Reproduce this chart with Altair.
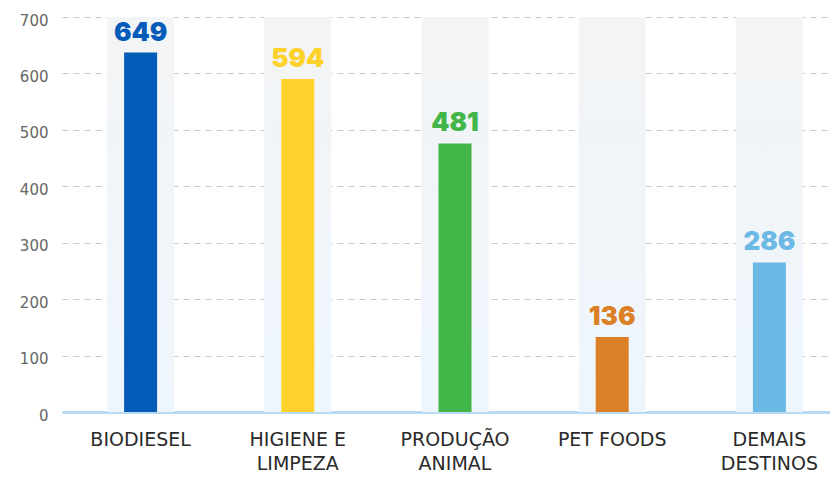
import altair as alt
import pandas as pd

categories = ["BIODIESEL", "HIGIENE E\nLIMPEZA", "PRODUÇÃO\nANIMAL", "PET FOODS", "DEMAIS\nDESTINOS"]
bar_values = [637, 590, 476, 133, 265]
label_texts = ["649", "594", "481", "136", "286"]
colors = ["#045bb8", "#fed22a", "#43b649", "#dc8027", "#6cb9e6"]
background_max = 700
y_ticks = [0, 100, 200, 300, 400, 500, 600, 700]

df = pd.DataFrame({
    "cat": categories,
    "value": bar_values,
    "label": label_texts,
    "color": colors,
    "bg": [background_max] * len(categories),
})

x_scale = alt.Scale(paddingInner=0, paddingOuter=0, range=[0, 786])

x_enc = alt.X("cat:N", sort=categories, scale=x_scale,
              axis=alt.Axis(title=None, labelExpr="split(datum.label, '\\n')",
                            labelAngle=0, labelFontSize=19, labelColor="#2a2a2a",
                            labelFont="DejaVu Sans", labelFontWeight="normal",
                            labelPadding=18, labelLineHeight=24,
                            labelBaseline="top",
                            ticks=False, domain=True, domainColor="#b8daf3",
                            domainWidth=3, grid=False))

y_scale = alt.Scale(domain=[0, 700], nice=False)

base = alt.Chart(df)

bg = base.mark_bar(
    size=67,
    color=alt.Gradient(gradient="linear",
                       stops=[alt.GradientStop(color="#f3f4f5", offset=0),
                              alt.GradientStop(color="#eef6fd", offset=1)],
                       x1=0, x2=0, y1=0, y2=1),
).encode(
    x=x_enc,
    y=alt.Y("bg:Q", scale=y_scale,
            axis=alt.Axis(title=None, values=y_ticks, domain=False, ticks=False,
                          labelFontSize=15, labelColor="#666666", labelFont="DejaVu Sans",
                          labelFontWeight="normal",
                          labelPadding=14, labelOffset=3,
                          gridDash=[6, 5], gridColor="#c9c9c9", gridWidth=1.2)),
)

bars = base.mark_bar(size=33).encode(
    x=alt.X("cat:N", sort=categories, scale=x_scale),
    y=alt.Y("value:Q", scale=y_scale),
    color=alt.Color("color:N", scale=None),
)

labels = base.mark_text(baseline="bottom", dy=-7, fontSize=26, fontWeight=900,
                        font="Inter").encode(
    x=alt.X("cat:N", sort=categories, scale=x_scale),
    y=alt.Y("value:Q", scale=y_scale),
    text="label:N",
    color=alt.Color("color:N", scale=None),
)

chart = alt.layer(bg, bars, labels).properties(
    width=768, height=395,
    autosize=alt.AutoSizeParams(type="none"),
    padding={"left": 54, "top": 9, "right": 0, "bottom": 62},
).configure_view(stroke=None)

chart.save("out.html", embed_options={"renderer": "svg", "actions": False})
